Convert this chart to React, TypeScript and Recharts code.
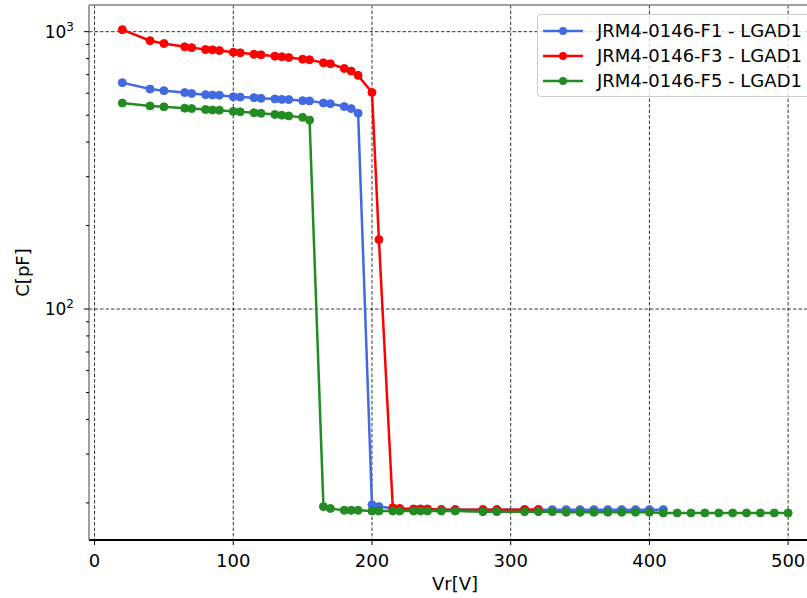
import React from "react";
import {
  LineChart,
  Line,
  XAxis,
  YAxis,
  CartesianGrid,
  Legend,
  ReferenceLine,
} from "recharts";

// reverse bias voltage [V] and capacitance [pF] per sensor
const f1Volts = [
  20, 40, 50, 65, 70, 80, 85, 90, 100, 105, 115, 120, 130, 135, 140, 150, 155,
  165, 170, 180, 185, 190, 200, 205, 215, 220, 230, 235, 240, 250, 260, 280,
  290, 310, 320, 330, 340, 350, 360, 370, 380, 390, 400, 410,
];
const f1Cap = [
  655, 621, 613, 603, 599, 593, 591, 590, 583, 581, 578, 575, 572, 570, 569,
  564, 563, 553, 550, 537, 528, 508, 19.7, 19.4, 19.1, 19.0, 19.0, 19.0, 19.0,
  18.9, 18.9, 18.9, 18.9, 18.9, 18.9, 18.9, 18.9, 18.9, 18.9, 18.9, 18.9, 18.9,
  18.9, 18.9,
];

const f3Volts = [
  20, 40, 50, 65, 70, 80, 85, 90, 100, 105, 115, 120, 130, 135, 140, 150, 155,
  165, 170, 180, 185, 190, 200, 205, 215, 220, 230, 235, 240, 250, 260, 280,
  290, 310, 320,
];
const f3Cap = [
  1017, 928, 906, 882, 876, 862, 860, 855, 843, 839, 829, 825, 816, 812, 807,
  796, 792, 772, 766, 737, 721, 696, 604, 178, 19.2, 19.1, 19.0, 19.0, 19.0,
  18.9, 18.9, 18.9, 18.9, 18.9, 18.9,
];

const f5Volts = [
  20, 40, 50, 65, 70, 80, 85, 90, 100, 105, 115, 120, 130, 135, 140, 150, 155,
  165, 170, 180, 185, 190, 200, 205, 215, 220, 230, 235, 240, 250, 260, 280,
  290, 310, 320, 330, 340, 350, 360, 370, 380, 390, 400, 410, 420, 430, 440,
  450, 460, 470, 480, 490, 500,
];
const f5Cap = [
  553, 540, 536, 530, 528, 524, 522, 521, 516, 514, 510, 508, 503, 500, 497,
  491, 480, 19.4, 19.1, 18.8, 18.8, 18.8, 18.7, 18.7, 18.7, 18.7, 18.7, 18.7,
  18.7, 18.7, 18.7, 18.6, 18.6, 18.6, 18.6, 18.6, 18.5, 18.5, 18.5, 18.5, 18.5,
  18.5, 18.5, 18.4, 18.4, 18.4, 18.4, 18.4, 18.4, 18.4, 18.4, 18.4, 18.4,
];

const xTicks = [0, 100, 200, 300, 400, 500];
const yMajor = [100, 1000];
const yTicks = [
  20, 30, 40, 50, 60, 70, 80, 90, 100, 200, 300, 400, 500, 600, 700, 800, 900,
  1000,
];

const zip = (v: number[], c: number[]) => v.map((x, i) => ({ v: x, c: c[i] }));

const series = [
  { name: "JRM4-0146-F1 - LGAD1", color: "#4169e1", data: zip(f1Volts, f1Cap) },
  { name: "JRM4-0146-F3 - LGAD1", color: "#ff0000", data: zip(f3Volts, f3Cap) },
  { name: "JRM4-0146-F5 - LGAD1", color: "#228b22", data: zip(f5Volts, f5Cap) },
];

const FONT = "'DejaVu Sans', sans-serif";

function YTick(props: any) {
  const { x, y, payload } = props;
  const major = yMajor.includes(payload.value);
  const exp = Math.round(Math.log10(payload.value));
  return (
    <g>
      <line x1={x - (major ? 5 : 3)} x2={x} y1={y} y2={y} stroke="#000" strokeWidth={1} />
      {major && (
        <text x={x - 15} y={y + 6} textAnchor="end" fontFamily={FONT} fontSize={17} fill="#000">
          10
          <tspan dy={-7} fontSize={12}>
            {exp}
          </tspan>
        </text>
      )}
    </g>
  );
}

function XTick(props: any) {
  const { x, y, payload } = props;
  return (
    <g>
      <line x1={x} x2={x} y1={y} y2={y + 5} stroke="#000" strokeWidth={1} />
      <text x={x} y={y + 27} textAnchor="middle" fontFamily={FONT} fontSize={18} fill="#000">
        {payload.value}
      </text>
    </g>
  );
}

function LegendBox(props: any) {
  const items = props.payload || [];
  return (
    <div
      style={{
        border: "1px solid #cccccc",
        borderRadius: 4,
        background: "rgba(255,255,255,0.8)",
        padding: "3px 0 3px 5px",
        width: 300,
        fontFamily: FONT,
        fontSize: 18,
      }}
    >
      {items.map((it: any) => (
        <div key={it.value} style={{ display: "flex", alignItems: "center", height: 25 }}>
          <svg width={54} height={12} style={{ flex: "none" }}>
            <line x1={0} x2={40} y1={6} y2={6} stroke={it.color} strokeWidth={2.5} />
            <circle cx={20} cy={6} r={4} fill={it.color} />
          </svg>
          <span style={{ whiteSpace: "nowrap", color: "#000" }}>{it.value}</span>
        </div>
      ))}
    </div>
  );
}

export default function App() {
  return (
    <div style={{ position: "absolute", left: 0, top: 0, width: 807, height: 598, background: "#fff", overflow: "hidden" }}>
      <LineChart width={807} height={598} margin={{ top: 5, right: 0, bottom: 0, left: 0 }}>
        <CartesianGrid
          stroke="#000"
          strokeWidth={0.8}
          strokeDasharray="3.5 2"
          horizontalValues={yMajor}
          verticalValues={xTicks}
        />
        <XAxis
          type="number"
          dataKey="v"
          domain={[-4, 513.6]}
          allowDataOverflow
          ticks={xTicks}
          interval={0}
          height={58}
          tickSize={0}
          tickMargin={0}
          tick={<XTick />}
          axisLine={{ stroke: "#000", strokeWidth: 2 }}
          label={({ viewBox }: any) => (
            <text
              x={viewBox.x + viewBox.width / 2 + 7}
              y={viewBox.y + 50}
              textAnchor="middle"
              fontFamily={FONT}
              fontSize={18}
              fill="#000"
            >
              Vr[V]
            </text>
          )}
        />
        <YAxis
          type="number"
          dataKey="c"
          scale="log"
          domain={[14.7, 1248]}
          allowDataOverflow
          ticks={yTicks}
          interval={0}
          width={89}
          tickSize={0}
          tickMargin={0}
          tick={<YTick />}
          axisLine={{ stroke: "#808080", strokeWidth: 1.5 }}
          label={({ viewBox }: any) => (
            <text
              x={29}
              y={viewBox.y + viewBox.height / 2}
              textAnchor="middle"
              transform={`rotate(-90, 29, ${viewBox.y + viewBox.height / 2})`}
              fontFamily={FONT}
              fontSize={18}
              fill="#000"
            >
              C[pF]
            </text>
          )}
        />
        <ReferenceLine y={1248} stroke="#808080" strokeWidth={1.5} ifOverflow="extendDomain" />
        <Legend
          layout="vertical"
          align="center"
          verticalAlign="middle"
          content={<LegendBox />}
          wrapperStyle={{ position: "absolute", left: 537, top: 14, width: 300 }}
        />
        {series.map((s) => (
          <Line
            key={s.name}
            data={s.data}
            dataKey="c"
            name={s.name}
            stroke={s.color}
            strokeWidth={2.5}
            dot={{ r: 4, fill: s.color, stroke: s.color, strokeWidth: 1 }}
            activeDot={false}
            isAnimationActive={false}
            type="linear"
          />
        ))}
      </LineChart>
    </div>
  );
}
